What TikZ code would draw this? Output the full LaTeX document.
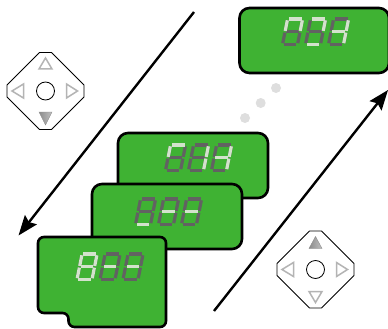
\documentclass[tikz,border=0pt]{standalone}
\usetikzlibrary{arrows.meta}
\definecolor{dispgreen}{HTML}{3FB233}
\definecolor{segoff}{HTML}{626262}
\definecolor{segon}{HTML}{D3E2CC}
\definecolor{padgray}{HTML}{B4B4B4}
\tikzset{
  x=1pt,y=-1pt,
  displaybox/.style={draw=black,fill=dispgreen,line width=2.6pt},
  segdark/.style={draw=segoff,line width=3.2pt},
  seglit/.style={draw=segon,line width=3.2pt},
  bigarrow/.style={draw=black,line width=2.4pt,-{Stealth[length=20pt,width=15pt,inset=3pt]}},
  dotmark/.style={fill=black!13,draw=none},
  padoutline/.style={draw=black,line width=0.8pt,fill=white},
  padtri/.style={draw=padgray,line width=1.5pt,fill=white,line join=miter},
  padpress/.style={draw=black!45,line width=0.4pt,left color=black!45,middle color=black!72,right color=black!25},
}
\def\sega{(1.3,-25.5) -- (13.9,-25.5)}
\def\segb{(15,-24.2) -- (15,-13.6)}
\def\segc{(15,-11.9) -- (15,-1.3)}
\def\segd{(1.3,0) -- (13.9,0)}
\def\sege{(0,-11.9) -- (0,-1.3)}
\def\segf{(0,-24.2) -- (0,-13.6)}
\def\segg{(1.3,-12.75) -- (13.9,-12.75)}
\newcommand\sevenseg[3]{%
  \begin{scope}[shift={(#1,#2)},xslant=0.2]
    \foreach \s in {a,b,c,d,e,f,g}{\draw[segdark] \csname seg\s\endcsname;}
    \foreach \s in {#3}{\draw[seglit] \csname seg\s\endcsname;}
  \end{scope}}
\newcommand\threedigits[5]{%
  \sevenseg{#1}{#2}{#3}%
  \sevenseg{#1+23}{#2}{#4}%
  \sevenseg{#1+46}{#2}{#5}}
\newcommand\navpad[3]{%
  \begin{scope}[shift={(#1,#2)}]
    \draw[padoutline] (-6,-38.5) -- (6,-38.5) -- (38.5,-6) -- (38.5,6) -- (6,38.5) -- (-6,38.5) -- (-38.5,6) -- (-38.5,-6) -- cycle;
    \draw[black,line width=0.8pt] (0,0) circle[radius=9];
    \draw[padtri] (-22,-7) -- (-22,7) -- (-33.5,0) -- cycle;
    \draw[padtri] (21,-7) -- (21,7) -- (32,0) -- cycle;
    \ifnum#3=0
      \draw[padtri] (-6.5,-22) -- (6.5,-22) -- (0,-33) -- cycle;
      \shade[padpress] (-6.5,21) -- (6.5,21) -- (0,34) -- cycle;
    \else
      \shade[padpress] (-6.5,-21) -- (6.5,-21) -- (0,-33) -- cycle;
      \draw[padtri] (-6.5,22) -- (6.5,22) -- (0,33) -- cycle;
    \fi
  \end{scope}}
\begin{document}
\begin{tikzpicture}
\useasboundingbox (0,0) rectangle (388,329);
% arrows
\coordinate (leftstart) at (194,12);
\coordinate (leftend) at (18.5,235.5);
\coordinate (rightstart) at (214,311);
\coordinate (rightend) at (388,90);
\draw[bigarrow] (leftstart) -- (leftend);
\draw[bigarrow] (rightstart) -- (rightend);
% dots
\fill[dotmark] (276,88) circle[radius=5];
\fill[dotmark] (260.7,103) circle[radius=5];
\fill[dotmark] (245,118) circle[radius=5];
% pads
\navpad{45.5}{91}{0}
\navpad{315.5}{269.5}{1}
% top display
\draw[displaybox,rounded corners=10pt] (239.5,8) rectangle (389,73);
\threedigits{282.5}{44.5}{a,b,f}{a,b,d}{b,c,g}
% back display
\draw[displaybox,rounded corners=10pt] (118,133) rectangle (268,198);
\threedigits{165.5}{170.5}{a,f}{b,c}{b,c,g}
% middle display
\draw[displaybox,rounded corners=10pt] (92,184) rectangle (242,249);
\threedigits{135.5}{224.5}{d}{g}{g}
% front display
\draw[displaybox,rounded corners=6pt] (38,237) -- (166,237) -- (166,327) -- (68.5,327) -- (68.5,313) -- (38,313) -- cycle;
\threedigits{77}{279.5}{a,b,c,d,e,f,g}{g}{g}
\end{tikzpicture}
\end{document}
